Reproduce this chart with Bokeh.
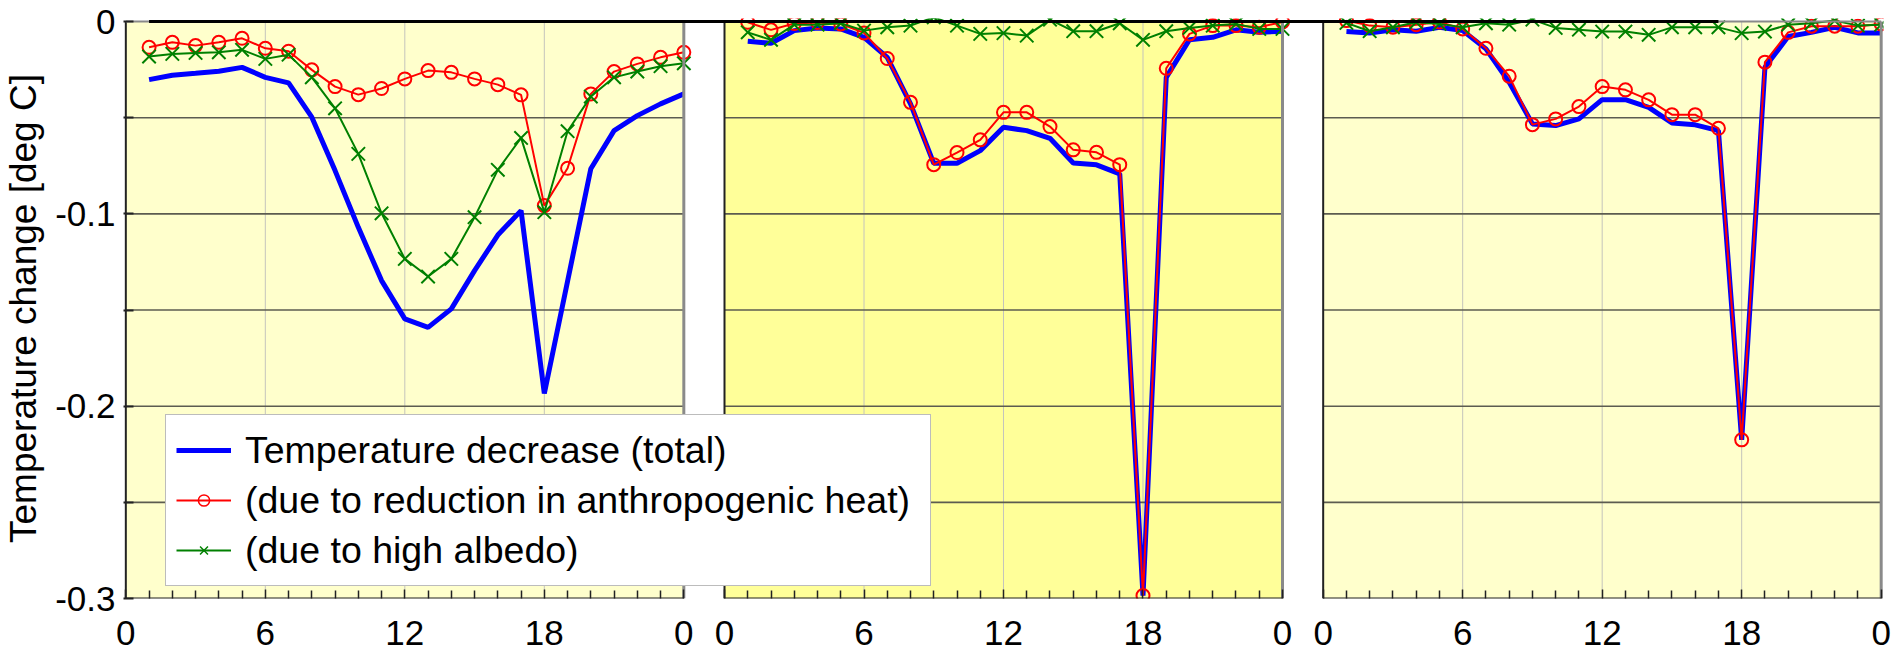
from bokeh.plotting import figure
from bokeh.models import FixedTicker, Legend, LegendItem, ColumnDataSource, Range1d
from bokeh.embed import file_html
from bokeh.resources import INLINE

# ---------------- data ----------------
hours = list(range(1, 25))
x_tick_hours = [0, 6, 12, 18, 24]
x_tick_labels = ["0", "6", "12", "18", "0"]
y_ticks = [-0.3, -0.2, -0.1, 0.0]
y_tick_labels = ["-0.3", "-0.2", "-0.1", "0"]
y_grid = [-0.25, -0.2, -0.15, -0.1, -0.05]
series_names = ["Temperature decrease (total)",
                "(due to reduction in anthropogenic heat)",
                "(due to high albedo)"]

panel1_total = [-0.0302, -0.0279, -0.0269, -0.0258, -0.0238, -0.0290, -0.0319, -0.0497,
                -0.0775, -0.1070, -0.1347, -0.1546, -0.1590, -0.1494, -0.1295, -0.1110,
                -0.0983, -0.1934, -0.1350, -0.0765, -0.0567, -0.0489, -0.0428, -0.0376]
panel1_heat = [-0.0134, -0.0108, -0.0125, -0.0108, -0.0087, -0.0139, -0.0154, -0.0251,
               -0.0338, -0.0380, -0.0348, -0.0298, -0.0255, -0.0264, -0.0298, -0.0328,
               -0.0381, -0.0957, -0.0763, -0.0376, -0.0260, -0.0220, -0.0186, -0.0160]
panel1_albedo = [-0.0182, -0.0168, -0.0163, -0.0160, -0.0147, -0.0194, -0.0172, -0.0290,
                 -0.0451, -0.0688, -0.0997, -0.1234, -0.1326, -0.1234, -0.1017, -0.0771,
                 -0.0605, -0.0991, -0.0570, -0.0390, -0.0290, -0.0260, -0.0232, -0.0217]

panel2_total = [-0.0102, -0.0113, -0.0047, -0.0033, -0.0038, -0.0082, -0.0186, -0.0428,
                -0.0737, -0.0737, -0.0671, -0.0550, -0.0567, -0.0607, -0.0735, -0.0745,
                -0.0792, -0.2985, -0.0290, -0.0094, -0.0082, -0.0043, -0.0056, -0.0050]
panel2_heat = [-0.0004, -0.0043, -0.0010, -0.0005, -0.0012, -0.0059, -0.0192, -0.0420,
               -0.0744, -0.0681, -0.0615, -0.0472, -0.0472, -0.0546, -0.0667, -0.0680,
               -0.0744, -0.2985, -0.0243, -0.0064, -0.0021, -0.0021, -0.0029, -0.0002]
panel2_albedo = [-0.0056, -0.0095, -0.0016, -0.0016, -0.0009, -0.0047, -0.0030, -0.0021,
                 0.0022, -0.0021, -0.0064, -0.0060, -0.0073, 0.0010, -0.0050, -0.0050,
                 -0.0009, -0.0095, -0.0050, -0.0033, -0.0021, -0.0012, -0.0038, -0.0038]

panel3_total = [-0.0052, -0.0059, -0.0043, -0.0050, -0.0030, -0.0047, -0.0142, -0.0316,
                -0.0532, -0.0541, -0.0506, -0.0406, -0.0406, -0.0446, -0.0527, -0.0537,
                -0.0567, -0.2175, -0.0238, -0.0078, -0.0056, -0.0030, -0.0059, -0.0059]
panel3_heat = [0.0005, -0.0021, -0.0029, -0.0016, -0.0002, -0.0038, -0.0139, -0.0284,
               -0.0536, -0.0506, -0.0442, -0.0338, -0.0355, -0.0407, -0.0484, -0.0484,
               -0.0555, -0.2175, -0.0211, -0.0056, -0.0024, -0.0024, -0.0024, -0.0012]
panel3_albedo = [-0.0007, -0.0050, -0.0030, -0.0004, -0.0012, -0.0030, -0.0009, -0.0016,
                 0.0010, -0.0033, -0.0042, -0.0052, -0.0052, -0.0069, -0.0030, -0.0030,
                 -0.0030, -0.0060, -0.0052, -0.0016, -0.0009, 0.0005, -0.0021, -0.0016]

panels = [
    (panel1_total, panel1_heat, panel1_albedo),
    (panel2_total, panel2_heat, panel2_albedo),
    (panel3_total, panel3_heat, panel3_albedo),
]
panel_bg = ["#FFFFCC", "#FFFF99", "#FFFFCC"]

# ---------------- layout helpers ----------------
FONT = "Liberation Sans"
GAP = 1.75                      # gap between panels, in hour units
SPAN = 24
offsets = [k * (SPAN + GAP) for k in range(len(panels))]
y_min, y_max = -0.3, 0.0
NAN = float("nan")

p = figure(width=1892, height=659, output_backend="svg", toolbar_location=None,
           x_range=Range1d(-0.1, offsets[-1] + SPAN + 0.1),
           y_range=Range1d(y_min, 0.0016),
           min_border_left=122, min_border_right=9, min_border_top=18, min_border_bottom=61)
p.background_fill_color = "white"
p.border_fill_color = "white"
p.outline_line_color = None
p.xgrid.visible = False
p.ygrid.visible = False

# panel backgrounds
bg_src = ColumnDataSource(dict(left=offsets, right=[o + SPAN for o in offsets],
                               color=panel_bg))
p.quad(left="left", right="right", bottom=y_min, top=y_max, fill_color="color",
       line_color=None, source=bg_src)

# vertical grid (light) and horizontal grid (dark)
vx = [o + h for o in offsets for h in x_tick_hours[1:-1]]
p.segment(x0=vx, y0=[y_min] * len(vx), x1=vx, y1=[y_max] * len(vx),
          line_color="#c4c4bc", line_width=1)
hx0 = [o for o in offsets for _ in y_grid]
hx1 = [o + SPAN for o in offsets for _ in y_grid]
hy = [g for _ in offsets for g in y_grid]
p.segment(x0=hx0, y0=hy, x1=hx1, y1=hy, line_color="#5c5c50", line_width=1.6)

# data
blue_r, red_r, green_r = [], [], []
for o, (tot, heat, alb) in zip(offsets, panels):
    xs = [o + h for h in hours]
    blue_r.append(p.line(xs, tot, line_color="#0000FF", line_width=5))
    red_r.append(p.line(xs, heat, line_color="#FF0000", line_width=2))
    p.scatter(xs, heat, marker="circle", size=13, line_color="#FF0000",
              fill_color=None, line_width=2)
    green_r.append(p.line(xs, alb, line_color="#008000", line_width=2))
    p.scatter(xs, alb, marker="x", size=19, line_color="#008000", line_width=2)

# panel borders: left/bottom dark, top/right gray
p.segment(x0=offsets, y0=[y_min] * 3, x1=offsets, y1=[y_max] * 3,
          line_color="#222222", line_width=2)
p.segment(x0=[o + SPAN for o in offsets], y0=[y_min] * 3, x1=[o + SPAN for o in offsets],
          y1=[y_max] * 3, line_color="#8a8a8a", line_width=3)
p.segment(x0=offsets, y0=[y_max] * 3, x1=[o + SPAN for o in offsets], y1=[y_max] * 3,
          line_color="#8a8a8a", line_width=2)
p.segment(x0=offsets, y0=[y_min] * 3, x1=[o + SPAN for o in offsets], y1=[y_min] * 3,
          line_color="#222222", line_width=2)
# zero reference line across panels
p.segment(x0=[offsets[0] + hours[0]], y0=[y_max], x1=[offsets[2] + 17], y1=[y_max],
          line_color="black", line_width=3)

# legend-only marker glyphs (NaN -> nothing drawn in the plot area)
leg_red = p.scatter(x=[NAN], y=[NAN], marker="circle", size=9, line_color="#FF0000",
                    fill_color=None, line_width=1.5)
leg_green = p.scatter(x=[NAN], y=[NAN], marker="x", size=15, line_color="#008000",
                      line_width=1.5)

legend = Legend(items=[
    LegendItem(label=series_names[0], renderers=[blue_r[0]]),
    LegendItem(label=series_names[1], renderers=[red_r[0], leg_red]),
    LegendItem(label=series_names[2], renderers=[green_r[0], leg_green]),
], location=(42, 12))
legend.border_line_color = "#7a7a7a"
legend.border_line_width = 1.5
legend.background_fill_color = "white"
legend.background_fill_alpha = 1.0
legend.padding = 10
legend.spacing = 0
legend.margin = 0
legend.glyph_width = 55
legend.glyph_height = 28
legend.label_height = 50
legend.label_standoff = 14
legend.label_width = 675
legend.label_text_font = FONT
legend.label_text_font_size = "37.5px"
legend.label_text_color = "black"
p.add_layout(legend)

# x axis
xt = [o + h for o in offsets for h in x_tick_hours]
xminor = [o + h for o in offsets for h in hours if h not in x_tick_hours]
xa = p.xaxis[0]
xa.ticker = FixedTicker(ticks=xt, minor_ticks=xminor)
xa.major_label_overrides = {o + h: lab for o in offsets for h, lab in zip(x_tick_hours, x_tick_labels)}
xa.axis_line_color = None
xa.major_tick_in = 9
xa.major_tick_out = 0
xa.minor_tick_in = 8
xa.minor_tick_out = 0
xa.major_tick_line_color = "#222222"
xa.minor_tick_line_color = "#222222"
xa.major_tick_line_width = 1.5
xa.minor_tick_line_width = 1.5
xa.major_label_text_font = FONT
xa.major_label_text_font_size = "35px"
xa.major_label_text_color = "black"
xa.major_label_standoff = 22

# y axis
ya = p.yaxis[0]
ya.ticker = FixedTicker(ticks=y_ticks, minor_ticks=[g for g in y_grid if g not in y_ticks])
ya.major_label_overrides = {t: lab for t, lab in zip(y_ticks, y_tick_labels)}
ya.axis_line_color = None
ya.major_tick_in = 10
ya.major_tick_out = 0
ya.minor_tick_in = 10
ya.minor_tick_out = 0
ya.major_tick_line_color = "#222222"
ya.minor_tick_line_color = "#222222"
ya.major_tick_line_width = 2
ya.minor_tick_line_width = 2
ya.major_label_text_font = FONT
ya.major_label_text_font_size = "35px"
ya.major_label_text_color = "black"
ya.major_label_standoff = 8
ya.axis_label = "Temperature change [deg C]"
ya.axis_label_text_font = FONT
ya.axis_label_text_font_size = "37px"
ya.axis_label_text_font_style = "normal"
ya.axis_label_text_color = "black"
ya.axis_label_standoff = 8

open("out.html", "w").write(file_html(p, INLINE))
